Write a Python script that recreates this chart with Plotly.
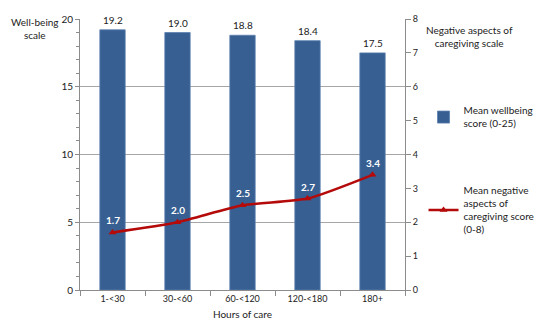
import plotly.graph_objects as go

# Hours of care bands
categories = ["1-<30", "30-<60", "60-<120", "120-<180", "180+"]
# Mean wellbeing score (0-25), left axis
wellbeing = [19.2, 19.0, 18.8, 18.4, 17.5]
# Mean negative aspects of caregiving score (0-8), right axis
negative = [1.7, 2.0, 2.5, 2.7, 3.4]

FONT = "Lato"
BAR_COLOR = "#375F92"
LINE_COLOR = "#B40A0A"
AXIS_GRAY = "#8C8C8C"

fig = go.Figure()

fig.add_trace(go.Bar(
    x=categories, y=wellbeing,
    name="Mean wellbeing<br>score (0-25)",
    marker=dict(color=BAR_COLOR, line=dict(color="#5B7FAE", width=0.8)),
    width=0.39,
    showlegend=True,
    legend="legend",
    yaxis="y",
))

fig.add_trace(go.Scatter(
    x=categories, y=negative,
    name="Mean negative<br>aspects of<br>caregiving score<br>(0-8)",
    mode="lines+markers",
    line=dict(color=LINE_COLOR, width=2.5, shape="spline", smoothing=0.6),
    marker=dict(symbol="triangle-up", size=7, color=LINE_COLOR),
    showlegend=True,
    legend="legend2",
    yaxis="y2",
))

annotations = []
# Value labels above the bars
for c, v in zip(categories, wellbeing):
    annotations.append(dict(
        x=c, y=v, xref="x", yref="y", text=f"{v:.1f}",
        showarrow=False, yshift=10, bgcolor="white",
        font=dict(family=FONT, size=10, color="#222222"),
        borderpad=0,
    ))
# Value labels on the line points
for c, v in zip(categories, negative):
    annotations.append(dict(
        x=c, y=v, xref="x", yref="y2", text=f"<b>{v:.1f}</b>",
        showarrow=False, yshift=12,
        font=dict(family=FONT, size=10, color="white"),
    ))
# Axis titles
annotations.append(dict(
    x=-0.138, y=1.02, xref="paper", yref="paper", text="Well-being<br>scale",
    showarrow=False, xanchor="center", yanchor="top", align="center",
    font=dict(family=FONT, size=10, color="#222222"),
))
annotations.append(dict(
    x=1.198, y=0.99, xref="paper", yref="paper",
    text="Negative aspects of<br>caregiving scale",
    showarrow=False, xanchor="center", yanchor="top", align="center",
    font=dict(family=FONT, size=10, color="#222222"),
))

legend_style = dict(
    xanchor="left", yanchor="top",
    font=dict(family=FONT, size=10, color="#222222"),
    itemwidth=30, bgcolor="rgba(0,0,0,0)",
)

fig.update_layout(
    width=552, height=334,
    margin=dict(l=80, r=138, t=15, b=44),
    paper_bgcolor="white", plot_bgcolor="white",
    font=dict(family=FONT, size=9, color="#222222"),
    annotations=annotations,
    xaxis=dict(
        title=dict(text="Hours of care", font=dict(size=10), standoff=8),
        showline=True, linecolor=AXIS_GRAY, linewidth=1,
        ticks="outside", tickson="boundaries", ticklen=5, tickcolor=AXIS_GRAY,
        tickfont=dict(size=9),
    ),
    yaxis=dict(
        range=[0, 20], dtick=5, showgrid=True, gridcolor="#A6A6A6", gridwidth=1,
        showline=True, linecolor=AXIS_GRAY, linewidth=1,
        ticks="outside", ticklen=4, tickcolor=AXIS_GRAY,
        minor=dict(dtick=1, ticks="outside", ticklen=3, tickcolor=AXIS_GRAY, showgrid=False),
        tickfont=dict(size=10), zeroline=False,
    ),
    yaxis2=dict(
        range=[0, 8], dtick=1, overlaying="y", side="right", showgrid=False,
        showline=True, linecolor=AXIS_GRAY, linewidth=1,
        ticks="outside", ticklen=5, tickcolor=AXIS_GRAY,
        tickfont=dict(size=9), zeroline=False,
    ),
    legend=dict(x=1.057, y=0.71, **legend_style),
    legend2=dict(x=1.057, y=0.415, **legend_style),
)

fig.write_html("out.html")
